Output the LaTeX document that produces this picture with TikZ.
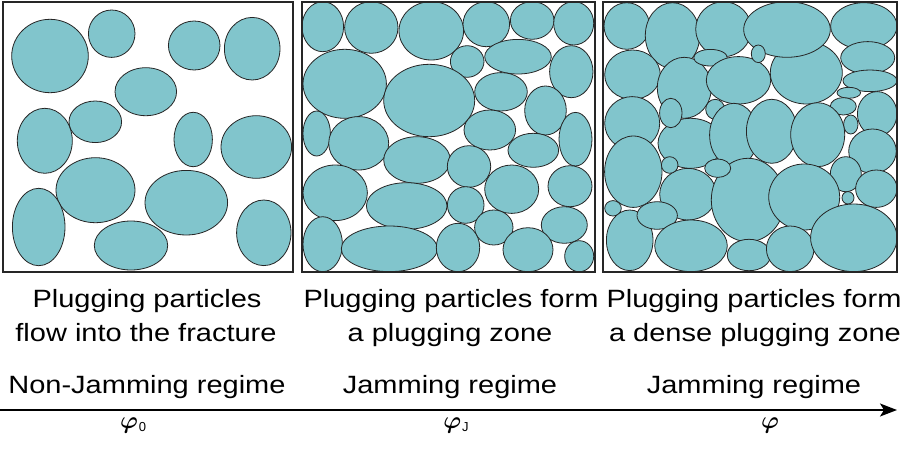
\documentclass[tikz,border=0pt]{standalone}
\usepackage{fontspec}
\usepackage{bm}
\setmainfont{Liberation Sans}
\usetikzlibrary{arrows.meta}
\definecolor{partfill}{RGB}{129,197,204}
\newcommand\pel[4]{\filldraw[particle] (#1,#2) ellipse [x radius=#3, y radius=#4];}
\newcommand\stx[1]{\scalebox{1.16}[1]{#1}}
\newcommand\bphi{{\normalsize\scalebox{2.4}{$\bm{\varphi}$}}}
\begin{document}
\begin{tikzpicture}[x=1pt,y=-1pt,
  particle/.style={fill=partfill,draw=black!85,line width=0.8pt},
  frame/.style={draw=black!85,line width=1.8pt},
  captxt/.style={font=\fontsize{25}{30}\selectfont,anchor=base,inner sep=0pt},
  phil/.style={font=\fontsize{13}{15}\selectfont,anchor=base,inner sep=0pt},
  axis/.style={line width=1.3pt,-{Stealth[length=17pt,width=13pt,inset=4pt]}}]
\useasboundingbox (0,0) rectangle (900,450);
\fill[white] (0,0) rectangle (900,450);
% ---------- box 1 ----------
\pel{50}{56}{38.3}{36.7}
\pel{111.7}{33.7}{23.3}{23.7}
\pel{194.2}{45.5}{25.8}{24.5}
\pel{252.2}{48.7}{27.8}{31.3}
\pel{145.8}{91.7}{30.8}{24}
\pel{44.8}{140.8}{27.5}{32.5}
\pel{95.3}{121.8}{26.3}{20.8}
\pel{193.2}{139.5}{19.2}{27.2}
\pel{256.3}{147}{35.3}{31.3}
\pel{95.5}{190.2}{39.5}{32.5}
\pel{186.3}{202.7}{41.3}{32.3}
\pel{38.7}{227}{26.3}{38.7}
\pel{131}{245.5}{36.7}{24.5}
\pel{263.8}{232.8}{27.2}{32.8}
% ---------- box 2 ----------
\pel{322.8}{26.7}{20.8}{25}
\pel{371.3}{27.5}{26.7}{25.8}
\pel{431.3}{30.8}{32.3}{29.2}
\pel{486.3}{24.2}{23.3}{22.5}
\pel{532.2}{20.5}{21.8}{18.8}
\pel{573.7}{23.3}{20}{21.7}
\pel{344.7}{83.8}{41.7}{34.5}
\pel{467.2}{61.5}{16.8}{15.8}
\pel{518}{56.7}{33.3}{17.3}
\pel{571.3}{71.7}{21.7}{26}
\pel{429.2}{100.5}{45.5}{36.2}
\pel{501}{91.8}{26.3}{19.2}
\pel{545.5}{110.5}{20.8}{24.5}
\pel{316.7}{133.5}{13.7}{22.5}
\pel{358.7}{143.3}{30}{26.7}
\pel{489.8}{130}{25.8}{20}
\pel{575.5}{139.2}{16.5}{26.8}
\pel{533.3}{150.3}{25.3}{17}
\pel{417}{160}{33.3}{23.3}
\pel{469}{166.5}{21.7}{20.8}
\pel{335.2}{192.8}{32.2}{27.8}
\pel{511.7}{189.2}{27}{24.2}
\pel{570}{186.2}{22}{20.5}
\pel{406.7}{206}{40.3}{23.3}
\pel{465.7}{205}{18.3}{18.3}
\pel{493.8}{227.5}{19.2}{17.5}
\pel{564.3}{225}{23}{18.3}
\pel{322.7}{244.2}{19.7}{27.5}
\pel{389.3}{248.8}{48}{22.8}
\pel{458}{247.5}{21.7}{24.2}
\pel{528}{249.7}{25}{22}
\pel{579.2}{256.2}{14.5}{15.5}
% ---------- box 3 ----------
\pel{626.8}{26}{22.8}{23.3}
\pel{672.5}{35.5}{27.2}{32.8}
\pel{723.5}{29.2}{27.8}{27.5}
\pel{806.3}{72.8}{36}{31.2}
\pel{787}{29.5}{43.3}{27.8}
\pel{863.8}{26}{33.2}{23.3}
\pel{632.5}{74.7}{27.8}{24.7}
\pel{684.3}{87.8}{27}{30.5}
\pel{710.5}{57.7}{16.8}{8.3}
\pel{738.5}{80.3}{32.2}{23.7}
\pel{758.3}{53.8}{7}{8.8}
\pel{867.7}{57.8}{27}{16.2}
\pel{870}{80.8}{27}{10.8}
\pel{877.2}{113.8}{19.8}{22.2}
\pel{848.8}{92.8}{11.8}{5.5}
\pel{843.3}{106.3}{13}{8.7}
\pel{850.8}{124.5}{7.2}{9.5}
\pel{632.2}{123.3}{27.5}{26.7}
\pel{690.5}{143.3}{32.5}{25}
\pel{670.8}{113}{11.2}{14.7}
\pel{715.2}{109.3}{9.5}{10}
\pel{733.8}{135}{24.2}{31.7}
\pel{771.7}{131.3}{25.3}{32}
\pel{817.7}{134.7}{27}{32}
\pel{633.3}{171.7}{28.7}{35.7}
\pel{872.5}{151.2}{23.8}{22.2}
\pel{845.8}{174.2}{15.5}{17.5}
\pel{876.3}{188.7}{20.7}{18.7}
\pel{688}{194.2}{28.3}{25.8}
\pel{669.7}{165}{8.3}{8.3}
\pel{748}{200}{36.7}{41.7}
\pel{717.7}{168.2}{13}{9.2}
\pel{804.2}{197}{35.5}{33}
\pel{848}{197.8}{6}{6.2}
\pel{613}{208.3}{8.3}{7.7}
\pel{629.7}{240.3}{23.3}{30.3}
\pel{657.2}{215.5}{20.2}{13.8}
\pel{691}{245.8}{36.3}{25.8}
\pel{749}{255}{21.7}{15.7}
\pel{790.2}{248.8}{23.8}{22.8}
\pel{853.8}{237.8}{43.2}{33.8}
% ---------- frames ----------
\draw[frame] (3,2) rectangle (293,272);
\draw[frame] (302,2) rectangle (595,272);
\draw[frame] (603,2) rectangle (897,272);
% ---------- captions ----------
\node[captxt] (c1a) at (147,307.5) {\stx{Plugging particles}};
\node[captxt] (c1b) at (146,341) {\stx{flow into the fracture}};
\node[captxt] (c2a) at (451,307.5) {\stx{Plugging particles form}};
\node[captxt] (c2b) at (450,341) {\stx{a plugging zone}};
\node[captxt] (c3a) at (754,307.5) {\stx{Plugging particles form}};
\node[captxt] (c3b) at (755,341) {\stx{a dense plugging zone}};
\node[captxt] (r1) at (147,393) {\stx{Non-Jamming regime}};
\node[captxt] (r2) at (450,393) {\stx{Jamming regime}};
\node[captxt] (r3) at (754,393) {\stx{Jamming regime}};
% ---------- axis ----------
\coordinate (ax0) at (0,410);
\coordinate (ax1) at (897,410);
\draw[axis] (ax0) -- (ax1);
\node[phil] (p0) at (133,428) {\bphi\kern0.8pt\raisebox{-3.5pt}{0}};
\node[phil] (pJ) at (456,428) {\bphi\kern0.8pt\raisebox{-3.5pt}{J}};
\node[phil] (p) at (770,428) {\bphi};
\end{tikzpicture}
\end{document}
